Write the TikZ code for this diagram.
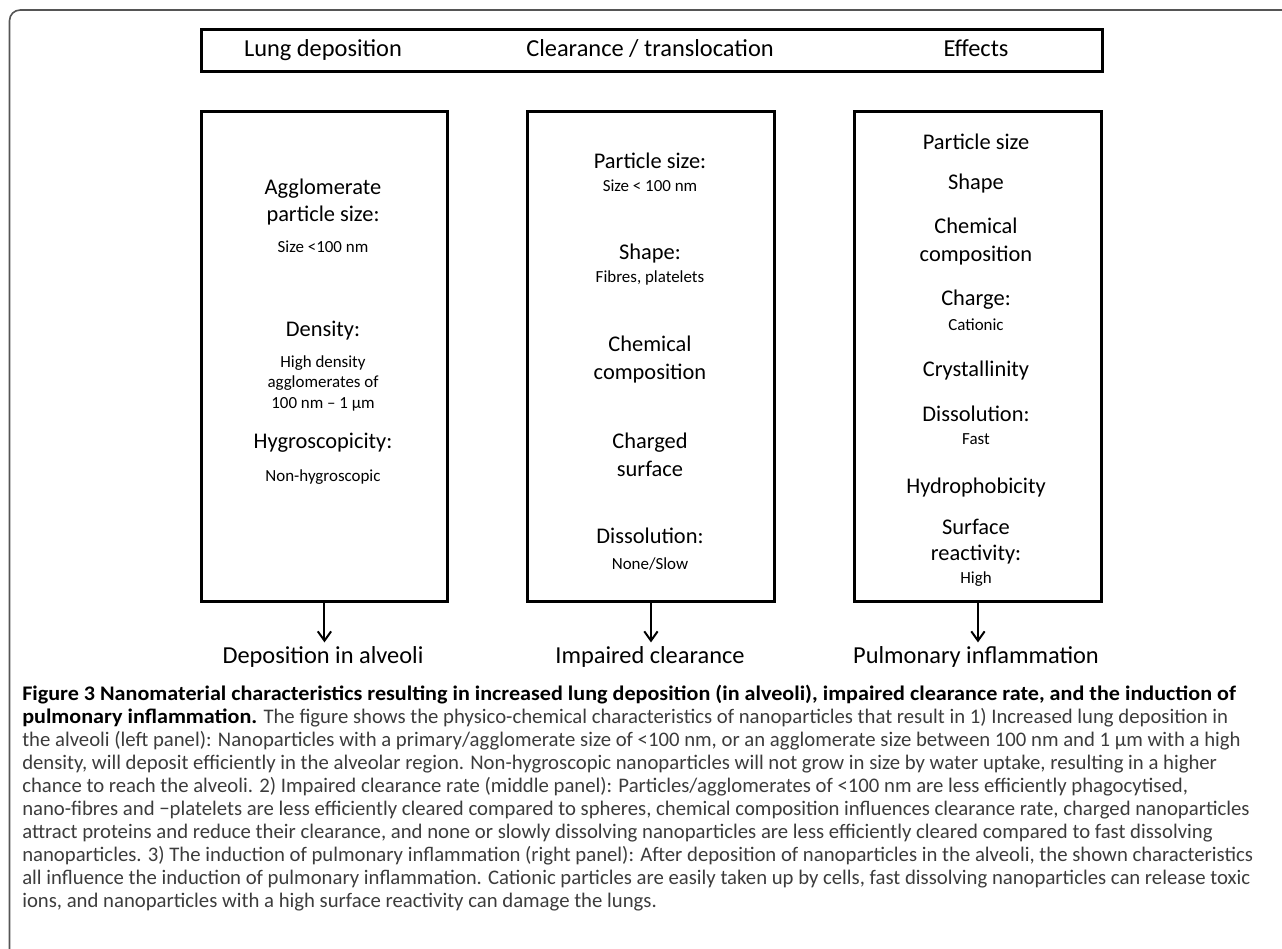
\documentclass[tikz,border=0pt]{standalone}
\usepackage{fontspec}
\setmainfont{Carlito}
\newfontfamily\capfont[BoldFeatures={FakeStretch=1.067}]{Carlito}
\usetikzlibrary{arrows.meta}
\definecolor{framegray}{HTML}{555555}
\definecolor{capgray}{HTML}{3C3C3C}
\begin{document}
\begin{tikzpicture}[x=0.75pt,y=-0.75pt,
  panel/.style={draw=black, line width=2.2pt, inner sep=0pt},
  hdtext/.style={font=\fontsize{18.3}{22}\selectfont, text height=0.75em, text depth=0.25em, inner sep=0pt},
  big/.style={font=\fontsize{16.8}{20}\selectfont, text height=0.75em, text depth=0.25em, inner sep=0pt},
  small/.style={font=\fontsize{12.7}{15}\selectfont, text height=0.75em, text depth=0.25em, inner sep=0pt},
  outtext/.style={font=\fontsize{18.3}{22}\selectfont, text height=0.75em, text depth=0.25em, inner sep=0pt},
  flow/.style={-{Straight Barb[length=7pt,width=10pt,line width=1.5pt]}, line width=1.5pt},
  capline/.style={anchor=base west, inner sep=0pt, font=\capfont\fontsize{15.55}{18}\selectfont, text=capgray}
]
\useasboundingbox (0,0) rectangle (1282,949);
% outer frame
\draw[framegray, line width=1.2pt, rounded corners=8pt] (9.5,960) -- (9.5,10) -- (1295,10);

% header box
\node[panel, minimum width=675.75pt, minimum height=31.5pt, anchor=north west] (header) at (200,28) {};
\node[hdtext] (h1) at (323,53) {Lung deposition};
\node[hdtext] (h2) at (650,53) {Clearance / translocation};
\node[hdtext] (h3) at (976,53) {Effects};

% panels
\node[panel, minimum width=184.5pt, minimum height=367.5pt, anchor=north west] (left) at (200,110) {};
\node[panel, minimum width=185.25pt, minimum height=367.5pt, anchor=north west] (mid) at (526,110) {};
\node[panel, minimum width=185.25pt, minimum height=367.5pt, anchor=north west] (right) at (853,110) {};

% left content
\node[big] (l1) at (323,191) {Agglomerate};
\node[big] (l2) at (323,218) {particle size:};
\node[small] (l3) at (323,249) {Size <100 nm};
\node[big] (l4) at (323,333) {Density:};
\node[small] (l5) at (323,364) {High density};
\node[small] (l6) at (323,384) {agglomerates of};
\node[small] (l7) at (323,405) {100 nm – 1 µm};
\node[big] (l8) at (323,445) {Hygroscopicity:};
\node[small] (l9) at (323,478) {Non-hygroscopic};

% middle content
\node[big] (m1) at (650,165) {Particle size:};
\node[small] (m2) at (650,188) {Size < 100 nm};
\node[big] (m3) at (650,256) {Shape:};
\node[small] (m4) at (650,279) {Fibres, platelets};
\node[big] (m5) at (650,348) {Chemical};
\node[big] (m6) at (650,376) {composition};
\node[big] (m7) at (650,445) {Charged};
\node[big] (m8) at (650,473) {surface};
\node[big] (m9) at (650,540) {Dissolution:};
\node[small] (m10) at (650,566) {None/Slow};

% right content
\node[big] (r1) at (976,146) {Particle size};
\node[big] (r2) at (976,186) {Shape};
\node[big] (r3) at (976,230) {Chemical};
\node[big] (r4) at (976,258) {composition};
\node[big] (r5) at (976,302) {Charge:};
\node[small] (r6) at (976,327) {Cationic};
\node[big] (r7) at (976,373) {Crystallinity};
\node[big] (r8) at (976,418) {Dissolution:};
\node[small] (r9) at (976,441) {Fast};
\node[big] (r10) at (976,490) {Hydrophobicity};
\node[big] (r11) at (976,531) {Surface};
\node[big] (r12) at (976,557) {reactivity:};
\node[small] (r13) at (976,580) {High};

% outcomes
\node[outtext] (o1) at (323,660) {Deposition in alveoli};
\node[outtext] (o2) at (650,660) {Impaired clearance};
\node[outtext] (o3) at (976,660) {Pulmonary inflammation};

\draw[flow] (left.south) -- ([yshift=8pt]left.south |- o1.north);
\draw[flow] (mid.south) -- ([yshift=8pt]mid.south |- o2.north);
\draw[flow] (right.south) -- ([yshift=8pt]right.south |- o3.north);

% caption
\node[capline] (c1) at (22,700) {\textbf{\color{black}Figure 3 Nanomaterial characteristics resulting in increased lung deposition (in alveoli), impaired clearance rate, and the induction of}};
\node[capline] (c2) at (22,723) {\textbf{\color{black}pulmonary inflammation.} The figure shows the physico-chemical characteristics of nanoparticles that result in 1) Increased lung deposition in};
\node[capline] (c3) at (22,746) {the alveoli (left panel): Nanoparticles with a primary/agglomerate size of <100 nm, or an agglomerate size between 100 nm and 1 µm with a high};
\node[capline] (c4) at (22,769) {density, will deposit efficiently in the alveolar region. Non-hygroscopic nanoparticles will not grow in size by water uptake, resulting in a higher};
\node[capline] (c5) at (22,792) {chance to reach the alveoli. 2) Impaired clearance rate (middle panel): Particles/agglomerates of <100 nm are less efficiently phagocytised,};
\node[capline] (c6) at (22,815) {nano-fibres and −platelets are less efficiently cleared compared to spheres, chemical composition influences clearance rate, charged nanoparticles};
\node[capline] (c7) at (22,838) {attract proteins and reduce their clearance, and none or slowly dissolving nanoparticles are less efficiently cleared compared to fast dissolving};
\node[capline] (c8) at (22,861) {nanoparticles. 3) The induction of pulmonary inflammation (right panel): After deposition of nanoparticles in the alveoli, the shown characteristics};
\node[capline] (c9) at (22,884) {all influence the induction of pulmonary inflammation. Cationic particles are easily taken up by cells, fast dissolving nanoparticles can release toxic};
\node[capline] (c10) at (22,907) {ions, and nanoparticles with a high surface reactivity can damage the lungs.};
\end{tikzpicture}
\end{document}
